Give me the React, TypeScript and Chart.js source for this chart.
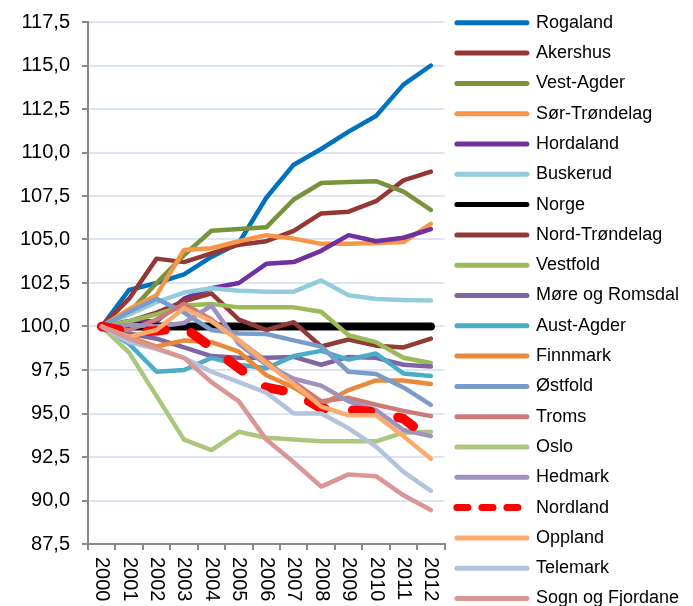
import React, { useEffect, useRef } from "react";
import { Chart, registerables } from "chart.js";

Chart.register(...registerables);

const years = ["2000", "2001", "2002", "2003", "2004", "2005", "2006", "2007", "2008", "2009", "2010", "2011", "2012"];

const rogaland = [100, 102.1, 102.5, 103.0, 104.0, 104.8, 107.4, 109.3, 110.2, 111.2, 112.1, 113.9, 115.0];
const akershus = [100, 101.6, 103.9, 103.7, 104.2, 104.7, 104.9, 105.5, 106.5, 106.6, 107.2, 108.4, 108.9];
const vestAgder = [100, 100.8, 102.5, 104.1, 105.5, 105.6, 105.7, 107.3, 108.25, 108.3, 108.35, 107.75, 106.7];
const sorTrondelag = [100, 101.0, 101.8, 104.4, 104.5, 104.9, 105.25, 105.05, 104.75, 104.75, 104.8, 104.85, 105.9];
const hordaland = [100, 100.3, 100.3, 101.6, 102.2, 102.5, 103.6, 103.7, 104.35, 105.25, 104.9, 105.1, 105.6];
const buskerud = [100, 100.7, 101.4, 101.95, 102.2, 102.05, 102.0, 102.0, 102.65, 101.8, 101.58, 101.52, 101.5];
const norge = [100, 100, 100, 100, 100, 100, 100, 100, 100, 100, 100, 100, 100];
const nordTrondelag = [100, 100.3, 100.8, 101.45, 101.9, 100.4, 99.8, 100.25, 98.85, 99.25, 98.9, 98.8, 99.3];
const vestfold = [100, 100.3, 100.7, 101.2, 101.3, 101.1, 101.1, 101.1, 100.85, 99.5, 99.1, 98.2, 97.9];
const moreOgRomsdal = [100, 99.6, 99.3, 98.8, 98.3, 98.2, 98.2, 98.25, 97.8, 98.25, 98.2, 97.8, 97.7];
const austAgder = [100, 99.0, 97.4, 97.5, 98.2, 97.8, 97.6, 98.3, 98.6, 98.1, 98.45, 97.3, 97.15];
const finnmark = [100, 99.4, 98.85, 99.2, 99.1, 98.55, 97.2, 96.5, 95.5, 96.35, 96.9, 96.9, 96.7];
const ostfold = [100, 100.85, 101.6, 100.8, 99.8, 99.6, 99.57, 99.2, 98.85, 97.4, 97.27, 96.5, 95.5];
const troms = [100, 99.8, 100.4, 101.3, 100.4, 99.2, 98.0, 96.8, 95.7, 95.9, 95.5, 95.15, 94.85];
const oslo = [100, 98.5, 96.0, 93.5, 92.9, 93.95, 93.6, 93.5, 93.4, 93.4, 93.4, 93.9, 93.95];
const hedmark = [100, 100.1, 100.0, 100.2, 101.2, 99.0, 97.8, 97.0, 96.6, 95.7, 95.2, 94.05, 93.7];
const nordland = [100, 99.7, 99.75, 99.95, 98.8, 97.6, 96.5, 96.2, 95.3, 95.2, 95.1, 94.7, 93.5];
const oppland = [100, 99.4, 99.8, 101.05, 100.3, 99.2, 97.9, 96.7, 95.4, 94.9, 94.9, 93.7, 92.4];
const telemark = [100, 99.1, 98.7, 98.2, 97.4, 96.8, 96.2, 95.0, 95.0, 94.15, 93.1, 91.65, 90.55];
const sognOgFjordane = [100, 99.3, 98.75, 98.2, 96.8, 95.7, 93.5, 92.2, 90.8, 91.5, 91.4, 90.3, 89.45];

const seriesNames = [
  "Rogaland", "Akershus", "Vest-Agder", "Sør-Trøndelag", "Hordaland", "Buskerud", "Norge",
  "Nord-Trøndelag", "Vestfold", "Møre og Romsdal", "Aust-Agder", "Finnmark", "Østfold", "Troms",
  "Oslo", "Hedmark", "Nordland", "Oppland", "Telemark", "Sogn og Fjordane",
];
const seriesValues = [
  rogaland, akershus, vestAgder, sorTrondelag, hordaland, buskerud, norge,
  nordTrondelag, vestfold, moreOgRomsdal, austAgder, finnmark, ostfold, troms,
  oslo, hedmark, nordland, oppland, telemark, sognOgFjordane,
];
const seriesColors = [
  "#0070C0", "#953735", "#77933C", "#F79646", "#7030A0", "#93CDDD", "#000000",
  "#923A38", "#9BBB59", "#8064A2", "#4BACC6", "#E8893B", "#7A9CCB", "#CD7B79",
  "#ABC77E", "#A092BE", "#FF0000", "#FAAB70", "#B3C3DE", "#D99694",
];

const yTicks = [87.5, 90, 92.5, 95, 97.5, 100, 102.5, 105, 107.5, 110, 112.5, 115, 117.5];

const FONT = "'Liberation Sans', Arial, sans-serif";
const CANVAS_W = 693;
const CANVAS_H = 640;

const verticalYearLabels = {
  id: "verticalYearLabels",
  afterDraw(chart: any) {
    const { ctx } = chart;
    const xs = chart.scales.x;
    ctx.save();
    ctx.font = `20px ${FONT}`;
    ctx.fillStyle = "#000000";
    ctx.textAlign = "left";
    ctx.textBaseline = "middle";
    xs.ticks.forEach((t: any, i: number) => {
      const px = xs.getPixelForTick(i);
      const label = xs.getLabelForValue(t.value);
      ctx.save();
      ctx.translate(px, chart.chartArea.bottom + 13);
      ctx.rotate(Math.PI / 2);
      ctx.fillText(label, 0, 0);
      ctx.restore();
    });
    ctx.restore();
  },
};

export default function App() {
  const canvasRef = useRef<HTMLCanvasElement | null>(null);

  useEffect(() => {
    document.body.style.margin = "0";
    const canvas = canvasRef.current;
    if (!canvas) return;
    const n = seriesNames.length;
    const datasets = seriesNames.map((name, i) => ({
      label: name,
      data: seriesValues[i],
      borderColor: seriesColors[i],
      backgroundColor: seriesColors[i],
      borderWidth: name === "Norge" ? 8 : name === "Nordland" ? 9.5 : 4.5,
      borderDash: name === "Nordland" ? [18, 28] : [],
      borderCapStyle: "round" as const,
      borderJoinStyle: "round" as const,
      pointRadius: 0,
      pointHoverRadius: 0,
      fill: false,
      tension: 0,
      order: n - i,
    }));

    const defaultGen = (Chart.defaults as any).plugins.legend.labels.generateLabels;

    const chart = new Chart(canvas, {
      type: "line",
      data: { labels: years, datasets },
      plugins: [verticalYearLabels],
      options: {
        animation: false,
        responsive: false,
        events: [],
        layout: { padding: { top: 1.5, right: 4, left: 0, bottom: 0 } },
        plugins: {
          tooltip: { enabled: false },
          legend: {
            position: "right",
            align: "start",
            maxWidth: 300,
            labels: {
              usePointStyle: true,
              pointStyle: "line",
              pointStyleWidth: 70,
              padding: 12.3,
              color: "#000000",
              font: { family: FONT, size: 18 },
              sort: (a: any, b: any) => a.datasetIndex - b.datasetIndex,
              generateLabels: (c: any) => {
                const items = defaultGen(c);
                return items.map((it: any) => {
                  const isNordland = it.text === "Nordland";
                  return {
                    ...it,
                    pointStyle: "line",
                    lineWidth: isNordland ? 7 : 5,
                    lineCap: "round",
                    lineDash: isNordland ? [11, 14] : [],
                  };
                });
              },
            },
          },
        },
        scales: {
          x: {
            type: "category",
            offset: true,
            ticks: { display: false },
            grid: {
              display: true,
              offset: true,
              drawOnChartArea: false,
              drawTicks: true,
              tickLength: 6,
              tickColor: "#898989",
              lineWidth: 2,
            },
            border: { display: true, color: "#898989", width: 2 },
            afterFit: (scale: any) => {
              scale.height = CANVAS_H - 544;
              scale.paddingLeft = 0;
              scale.paddingRight = 0;
            },
          },
          y: {
            type: "linear",
            min: 87.5,
            max: 117.5,
            afterBuildTicks: (scale: any) => {
              scale.ticks = yTicks.map((v) => ({ value: v }));
            },
            ticks: {
              padding: 12,
              color: "#000000",
              font: { family: FONT, size: 20 },
              callback: (v: any) => Number(v).toFixed(1).replace(".", ","),
            },
            grid: {
              color: "#DCE6F2",
              lineWidth: 2,
              drawTicks: true,
              tickLength: 6,
              tickColor: "#898989",
            },
            border: { display: true, color: "#898989", width: 2 },
            afterFit: (scale: any) => {
              scale.width = 88;
              scale.paddingTop = 22;
              scale.paddingBottom = 0;
            },
          },
        },
      },
    });
    return () => chart.destroy();
  }, []);

  return (
    <div
      style={{
        position: "fixed",
        left: 0,
        top: 0,
        width: CANVAS_W,
        height: 606,
        overflow: "hidden",
        background: "#ffffff",
      }}
    >
      <canvas ref={canvasRef} width={CANVAS_W} height={CANVAS_H} style={{ display: "block" }} />
    </div>
  );
}
